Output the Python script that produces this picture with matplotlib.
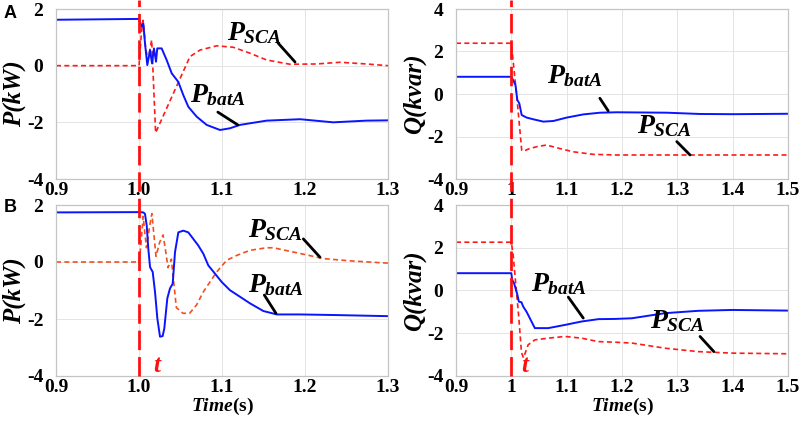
import matplotlib
matplotlib.use('Agg')
import matplotlib.pyplot as plt
from matplotlib.lines import Line2D
from matplotlib.transforms import blended_transform_factory

plt.rcParams['font.family'] = ['Liberation Serif', 'DejaVu Serif']
plt.rcParams['mathtext.fontset'] = 'custom'
plt.rcParams['mathtext.it'] = 'Liberation Serif:italic:bold'
plt.rcParams['mathtext.rm'] = 'Liberation Serif:bold'
plt.rcParams['mathtext.bf'] = 'Liberation Serif:bold'

# ---------------- data ----------------
# Panel A, active power
tA_P_bat = [0.9, 1.0, 1.0032, 1.0052, 1.0072, 1.010, 1.0133, 1.0157, 1.018, 1.0205, 1.022, 1.0273,
            1.0333, 1.0394, 1.0473, 1.0534, 1.0594, 1.0695, 1.0815, 1.0976, 1.1096, 1.1217, 1.1538,
            1.194, 1.234, 1.274, 1.3]
A_P_bat = [1.62, 1.65, 1.38, 1.49, 0.79, 0.02, 0.55, 0.08, 0.61, 0.14, 0.61, 0.61,
           0.2, -0.27, -0.57, -1.04, -1.45, -1.80, -2.09, -2.27, -2.21, -2.09, -1.94,
           -1.89, -2.0, -1.94, -1.93]
tA_P_sca = [0.9, 1.0, 1.003, 1.005, 1.008, 1.011, 1.0153, 1.020, 1.0414, 1.0614, 1.0735, 1.0936,
            1.1136, 1.1337, 1.1538, 1.1819, 1.214, 1.2422, 1.274, 1.3]
A_P_sca = [0.0, 0.0, 1.2, 1.6, 0.6, 0.2, 0.91, -2.37, -0.98, 0.32, 0.55, 0.70,
           0.65, 0.44, 0.2, 0.05, 0.06, 0.12, 0.06, 0.0]

# Panel A, reactive power
tA_Q_bat = [0.9, 1.0, 1.004, 1.0075, 1.0108, 1.0144, 1.0187, 1.0277, 1.0397, 1.0578, 1.0759, 1.1,
            1.1301, 1.1603, 1.1904, 1.281, 1.341, 1.401, 1.5]
A_Q_bat = [0.81, 0.81, 0.61, 0.42, -0.28, -0.44, -0.99, -1.11, -1.19, -1.30, -1.27, -1.11,
           -0.96, -0.88, -0.86, -0.88, -0.94, -0.95, -0.93]
tA_Q_sca = [0.9, 1.0, 1.004, 1.0096, 1.0157, 1.0187, 1.0217, 1.0307, 1.0458, 1.0639, 1.082, 1.112,
            1.148, 1.19, 1.3, 1.5]
A_Q_sca = [2.39, 2.39, 1.36, -0.05, -1.77, -2.64, -2.70, -2.59, -2.48, -2.40, -2.53, -2.72,
           -2.84, -2.87, -2.87, -2.87]

# Panel B, active power
tB_P_bat = [0.9, 1.0, 1.0052, 1.0072, 1.0093, 1.0112, 1.0133, 1.0165, 1.0193, 1.0221, 1.0253, 1.0285,
            1.0305, 1.0341, 1.0373, 1.0406, 1.0434, 1.0474, 1.0534, 1.0594, 1.0654, 1.0714, 1.0775,
            1.0835, 1.0916, 1.0996, 1.1096, 1.1217, 1.1337, 1.1498, 1.166, 1.194, 1.234, 1.3]
B_P_bat = [1.74, 1.75, 1.74, 1.69, 1.28, 0.47, -0.18, -0.35, -1.05, -1.98, -2.62, -2.6,
           -2.33, -1.28, -0.93, -0.76, 0.35, 1.04, 1.10, 1.04, 0.81, 0.58, 0.29,
           -0.12, -0.41, -0.70, -0.99, -1.22, -1.45, -1.72, -1.84, -1.84, -1.86, -1.9]
tB_P_sca = [0.9, 1.0, 1.002, 1.005, 1.009, 1.0125, 1.0155, 1.0205, 1.025, 1.029, 1.032, 1.035, 1.039,
            1.045, 1.053, 1.061, 1.0695, 1.0775, 1.0855, 1.0936, 1.1056, 1.1177, 1.1337, 1.1538,
            1.1618, 1.194, 1.222, 1.254, 1.3]
B_P_sca = [0.0, 0.0, 0.5, 1.6, 0.5, 1.2, 1.7, 0.2, 0.7, 0.95, 0.4, -0.2, 0.1,
           -1.6, -1.8, -1.8, -1.5, -1.05, -0.7, -0.35, 0.06, 0.23, 0.41, 0.5,
           0.5, 0.3, 0.12, 0.04, -0.04]

# Panel B, reactive power
tB_Q_bat = [0.9, 1.0, 1.0015, 1.005, 1.011, 1.0136, 1.0183, 1.0214, 1.0274, 1.0335, 1.0364, 1.0425,
            1.0667, 1.097, 1.127, 1.1574, 1.1876, 1.2176, 1.278, 1.338, 1.3988, 1.5]
B_Q_bat = [0.81, 0.81, 0.5, 0.34, -0.21, -0.52, -0.55, -0.75, -0.99, -1.30, -1.45, -1.76,
           -1.76, -1.61, -1.45, -1.34, -1.33, -1.30, -1.06, -0.95, -0.91, -0.94]
tB_Q_sca = [0.9, 1.0, 1.0033, 1.0093, 1.0136, 1.0183, 1.022, 1.0304, 1.0425, 1.0667, 1.097, 1.127,
            1.157, 1.188, 1.218, 1.278, 1.338, 1.399, 1.5]
B_Q_sca = [2.26, 2.26, 1.66, -0.05, -1.3, -2.9, -3.15, -2.54, -2.31, -2.23, -2.15, -2.23,
           -2.39, -2.42, -2.46, -2.70, -2.86, -2.93, -2.96]

p_xticks = [0.9, 1.0, 1.1, 1.2, 1.3]
p_xlabels = ['0.9', '1.0', '1.1', '1.2', '1.3']
q_xticks = [0.9, 1.0, 1.1, 1.2, 1.3, 1.4, 1.5]
q_xlabels = ['0.9', '1', '1.1', '1.2', '1.3', '1.4', '1.5']
p_yticks = [-4, -2, 0, 2]
q_yticks = [-4, -2, 0, 2, 4]
t_fault = 1.0

# ---------------- figure ----------------
fig = plt.figure(figsize=(8.03, 4.23), dpi=100)
W, H = 803, 423

def ax_at(l, t, r, b):
    return fig.add_axes([l / W, 1 - b / H, (r - l) / W, (b - t) / H])

axTL = ax_at(56, 9, 388, 179)
axTR = ax_at(456, 9, 788, 179)
axBL = ax_at(56, 205, 388, 376)
axBR = ax_at(456, 205, 788, 376)

blue = '#0a14ff'
red = '#ff1a1a'
orange = '#f2501e'
tick_font = dict(family='Liberation Serif', weight='bold', size=14)

def style(ax, xt, xl, yt, ylim, xlim, ylabel):
    ax.set_xlim(*xlim)
    ax.set_ylim(*ylim)
    ax.set_xticks(xt)
    ax.set_xticklabels(xl, fontdict=tick_font)
    ax.set_yticks(yt)
    ax.set_yticklabels([str(v) for v in yt], fontdict=tick_font)
    ax.grid(True, color='#e4e4e4', lw=0.7)
    ax.set_axisbelow(True)
    for s in ax.spines.values():
        s.set_color('#c4c4c4')
        s.set_linewidth(0.9)
    ax.tick_params(length=0, pad=2)
    ax.tick_params(axis='y', pad=9)
    ax.set_ylabel(ylabel, fontsize=18, fontweight='bold', fontstyle='italic',
                  family='Liberation Serif', labelpad=1)

style(axTL, p_xticks, p_xlabels, p_yticks, (-4, 2), (0.9, 1.3), 'P(kW)')
style(axBL, p_xticks, p_xlabels, p_yticks, (-4, 2), (0.9, 1.3), 'P(kW)')
style(axTR, q_xticks, q_xlabels, q_yticks, (-4, 4), (0.9, 1.5), 'Q(kvar)')
style(axBR, q_xticks, q_xlabels, q_yticks, (-4, 4), (0.9, 1.5), 'Q(kvar)')

dash_small = (0, (3, 2))
axTL.plot(tA_P_sca, A_P_sca, color=red, lw=1.2, ls=dash_small)
axTL.plot(tA_P_bat, A_P_bat, color=blue, lw=1.4)
axTR.plot(tA_Q_sca, A_Q_sca, color=red, lw=1.2, ls=dash_small)
axTR.plot(tA_Q_bat, A_Q_bat, color=blue, lw=1.4)
axBL.plot(tB_P_sca, B_P_sca, color=orange, lw=1.2, ls=dash_small)
axBL.plot(tB_P_bat, B_P_bat, color=blue, lw=1.4)
axBR.plot(tB_Q_sca, B_Q_sca, color=red, lw=1.2, ls=dash_small)
axBR.plot(tB_Q_bat, B_Q_bat, color=blue, lw=1.4)

for ax in (axBL, axBR):
    ax.set_xlabel('$Time$(s)', fontsize=14, fontweight='bold', family='Liberation Serif', labelpad=0)

# fault lines spanning both rows
ybot = 1 - 376 / H
for ax in (axTL, axTR):
    tr = blended_transform_factory(ax.transData, fig.transFigure)
    fig.add_artist(Line2D([t_fault, t_fault], [ybot, 1.0], transform=tr, color='#ff1010',
                          lw=2.0, ls=(0, (7, 2.5)), zorder=5))

lab = dict(fontsize=20, color='black')
def note(ax, text, txy, p0, p1):
    ax.text(txy[0], txy[1], text, ha='left', va='baseline', **lab)
    ax.annotate('', xy=p1, xytext=p0,
                arrowprops=dict(arrowstyle='-', color='black', lw=2.0, shrinkA=0, shrinkB=0))

note(axTL, '$P_{SCA}$', (1.106, 0.90), (1.1675, 0.80), (1.188, 0.13))
note(axTL, '$P_{batA}$', (1.061, -1.27), (1.095, -1.64), (1.119, -2.09))
note(axTR, '$P_{batA}$', (1.0645, 0.50), (1.160, -0.20), (1.175, -0.79))
note(axTR, '$P_{SCA}$', (1.227, -1.85), (1.299, -2.24), (1.323, -2.87))
note(axBL, '$P_{SCA}$', (1.1317, 0.87), (1.198, 0.81), (1.218, 0.17))
note(axBL, '$P_{batA}$', (1.1317, -1.05), (1.151, -1.16), (1.165, -1.80))
note(axBR, '$P_{batA}$', (1.0364, -0.05), (1.103, -0.31), (1.130, -1.29))
note(axBR, '$P_{SCA}$', (1.251, -1.76), (1.341, -2.15), (1.366, -2.86))

axBL.text(1.0223, -3.85, '$t$', color='#ff1010', fontsize=18, ha='center', va='baseline')
axBR.text(1.026, -3.8, '$t$', color='#ff1010', fontsize=18, ha='center', va='baseline')

fig.text(10 / W, 1 - 13 / H, 'A', fontsize=13, fontweight='bold', family='Liberation Sans',
         ha='center', va='center')
fig.text(10 / W, 1 - 207 / H, 'B', fontsize=13, fontweight='bold', family='Liberation Sans',
         ha='center', va='center')

fig.savefig('out.png', dpi=100)
